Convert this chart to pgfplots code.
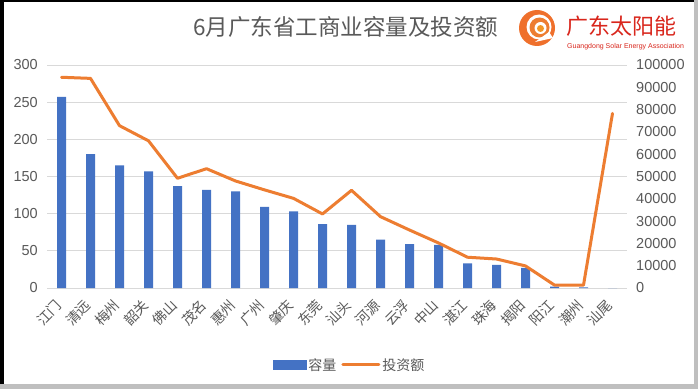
\documentclass[border=0pt]{standalone}
\usepackage{pgfplots}
\pgfplotsset{compat=1.18}
\usepackage{fontspec}
\setmainfont{Noto Sans CJK SC}
\newfontfamily\latinfont{Liberation Sans}
\definecolor{barblue}{HTML}{4472C4}
\definecolor{lineorange}{HTML}{ED7D31}
\definecolor{txtgray}{HTML}{595959}
\definecolor{gridgray}{HTML}{D9D9D9}
\definecolor{logored}{HTML}{D9261C}

\pgfplotstableread{
x cap inv
0 257 94500
1 180 94000
2 165 72800
3 157 66000
4 137 49200
5 132 53500
6 130 48000
7 109 44000
8 103 40200
9 86 33200
10 85 43800
11 65 32000
12 59 26000
13 58 20200
14 33 13800
15 31 13000
16 27 9900
17 2 1300
18 1 1300
19 0 78300
}\datatable

\begin{document}
\begin{tikzpicture}[x=1pt,y=1pt]
\fill[white] (0,0) rectangle (698,389);
\path[use as bounding box] (0,0) rectangle (698,389);
\fill[black] (0,0) rectangle (4,389);
\fill[black] (0,387) rectangle (698,389);
\fill[black!25] (0,0) rectangle (698,5);
\fill[black!25] (694,0) rectangle (698,389);

% title
\node[text=txtgray, font=\fontsize{22.5}{22.5}\selectfont] at (346,362) {6月广东省工商业容量及投资额};
% logo (decorative)
\begin{scope}[shift={(537,361)}]
  \fill[lineorange!90!red] (0,0) circle (18);
  \fill[white] (2,1) circle (12.5);
  \fill[lineorange] (2.5,0.5) circle (10);
  \fill[white] (3.5,0) circle (6);
  \fill[lineorange!80!yellow] (3.5,-0.5) circle (3.5);
  \fill[white] (-2,-14) -- (12,-4) -- (16,-10) -- cycle;
\end{scope}
\node[text=logored, font=\fontsize{22}{22}\selectfont, anchor=west, inner sep=0pt] at (566,363) {广东太阳能};
\node[text=logored, font=\latinfont\fontsize{7}{7}\selectfont, anchor=west, inner sep=0pt] at (567,342) {Guangdong Solar Energy Association};

\begin{axis}[
  at={(47pt,101pt)}, anchor=south west,
  scale only axis, width=580pt, height=223pt,
  xmin=-0.5, xmax=19.5, ymin=0, ymax=300,
  ytick={0,50,...,300},
  xtick={0,...,19},
  xticklabels={江门,清远,梅州,韶关,佛山,茂名,惠州,广州,肇庆,东莞,汕头,河源,云浮,中山,湛江,珠海,揭阳,阳江,潮州,汕尾},
  ymajorgrids, grid style={gridgray, line width=0.8pt},
  axis line style={draw=none},
  major tick length=0pt,
  /pgf/number format/assume math mode=true,
  yticklabel style={font=\latinfont\fontsize{14.5}{14.5}\selectfont, text=txtgray, anchor=east, inner sep=0pt, xshift=-9pt},
  xticklabel style={font=\fontsize{14}{14}\selectfont, text=txtgray, xshift=-7pt, yshift=-10pt, rotate=45, anchor=north east, inner sep=0pt},
  clip=false,
]
\addplot[ybar, bar width=9pt, bar shift=0pt, fill=barblue, draw=none] table[x=x, y=cap] {\datatable};
\end{axis}

\begin{axis}[
  at={(47pt,101pt)}, anchor=south west,
  scale only axis, width=580pt, height=223pt,
  xmin=-0.5, xmax=19.5, ymin=0, ymax=100000,
  ytick={0,10000,...,100000},
  xtick=\empty,
  scaled y ticks=false,
  yticklabel pos=right,
  axis line style={draw=none},
  major tick length=0pt,
  /pgf/number format/assume math mode=true,
  /pgf/number format/fixed,
  /pgf/number format/precision=0,
  /pgf/number format/1000 sep={},
  yticklabel style={font=\latinfont\fontsize{14.5}{14.5}\selectfont, text=txtgray, anchor=west, inner sep=0pt, xshift=9pt},
  legend style={at={(0.522,-0.345)}, anchor=center, draw=none, fill=none, legend columns=2,
    font=\fontsize{14}{14}\selectfont, text=txtgray,
    /tikz/every even column/.append style={column sep=3pt}},
  legend cell align=left,
  clip=false,
]
\addlegendimage{legend image code/.code={\fill[barblue] (0pt,-4.5pt) rectangle (33pt,4.5pt);}}
\addlegendentry{容量}
\addplot[lineorange, line width=3pt, line join=round, line cap=round,
  legend image code/.code={\draw[lineorange, line width=3pt] (0pt,0pt) -- (36pt,0pt);}] table[x=x, y=inv] {\datatable};
\addlegendentry{投资额}
\end{axis}
\end{tikzpicture}
\end{document}
